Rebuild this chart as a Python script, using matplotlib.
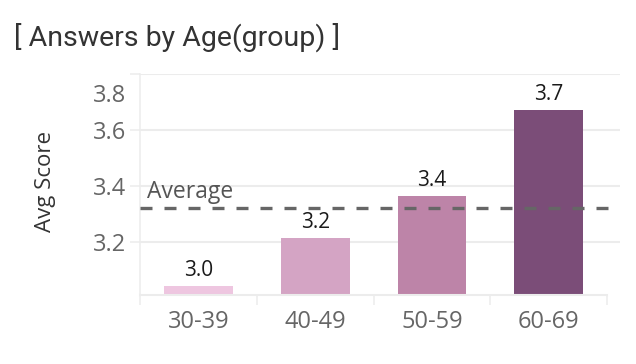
"""Average score by age group, bar chart with average reference line."""

import matplotlib
matplotlib.use("Agg")
import matplotlib.pyplot as plt
import matplotlib.transforms as mtransforms

# data
age_groups = ["30-39", "40-49", "50-59", "60-69"]
avg_scores = [3.043, 3.214, 3.364, 3.671]
overall_avg = 3.322
bar_colors = ["#eec6e0", "#d4a4c4", "#bd84a8", "#7b4d78"]
y_ticks = [3.2, 3.4, 3.6, 3.8]

plt.rcParams["font.family"] = ["Open Sans", "DejaVu Sans"]
grid_col = "#ececec"

fig = plt.figure(figsize=(6.36, 3.64), dpi=100)
ax = fig.add_axes([140 / 636, 1 - 295 / 364, 480 / 636, 221 / 364])

x = list(range(len(age_groups)))
bars = ax.bar(x, avg_scores, width=0.59, color=bar_colors, zorder=2)

# value labels above bars
for rect, val in zip(bars, avg_scores):
    ax.annotate(f"{val:.1f}", (rect.get_x() + rect.get_width() / 2, rect.get_height()),
                textcoords="offset points", xytext=(0, 7), ha="center", va="baseline",
                fontsize=15, fontweight="medium", color="#1a1a1a", zorder=4)

# average reference line
ax.hlines(overall_avg, -0.5, 3.54, colors="#666666", linestyles=(0, (3.6, 3.6)),
          linewidth=2.4, zorder=3)
ax.annotate("Average", (-0.5, overall_avg), textcoords="offset points", xytext=(5, 7.2),
            ha="left", va="baseline", fontsize=16.5, color="#555555")

ax.set_xlim(-0.5, 3.61)
ax.set_ylim(3.0107, 3.8)

ax.set_yticks(y_ticks)
ax.set_yticklabels([f"{t:.1f}" for t in y_ticks])
ax.yaxis.grid(True, color=grid_col, linewidth=1.5, zorder=0)
ax.tick_params(axis="y", length=7.2, width=1.1, color=grid_col, pad=3,
               labelsize=17, labelcolor="#666666")
# Tableau pushes the top label inside the pane
top_lbl = ax.get_yticklabels()[-1]
top_lbl.set_transform(top_lbl.get_transform()
                      + mtransforms.ScaledTranslation(0, -19 / 100, fig.dpi_scale_trans))

ax.set_xticks(x)
ax.set_xticklabels(age_groups)
ax.set_xticks([i - 0.5 for i in range(len(age_groups) + 1)], minor=True)
ax.tick_params(axis="x", which="major", length=0, pad=11, labelsize=17, labelcolor="#666666")
ax.tick_params(axis="x", which="minor", length=7, width=1.1, color=grid_col)

for side in ("top", "right"):
    ax.spines[side].set_visible(False)
ax.spines["left"].set_color(grid_col)
ax.spines["left"].set_linewidth(1.1)
ax.spines["bottom"].set_color(grid_col)
ax.spines["bottom"].set_linewidth(1.5)
ax.spines["bottom"].set_bounds(-0.5, 3.5)

fig.text(45 / 636, 0.5, "Avg Score", rotation=90, ha="center", va="center",
         fontsize=16, color="#333333")
fig.text(14 / 636, 1 - 37 / 364, "[ Answers by Age(group) ]", ha="left", va="center",
         fontsize=20.5, color="#333333", family=["Roboto", "DejaVu Sans"])

fig.savefig("out.png", dpi=100)
plt.close(fig)
